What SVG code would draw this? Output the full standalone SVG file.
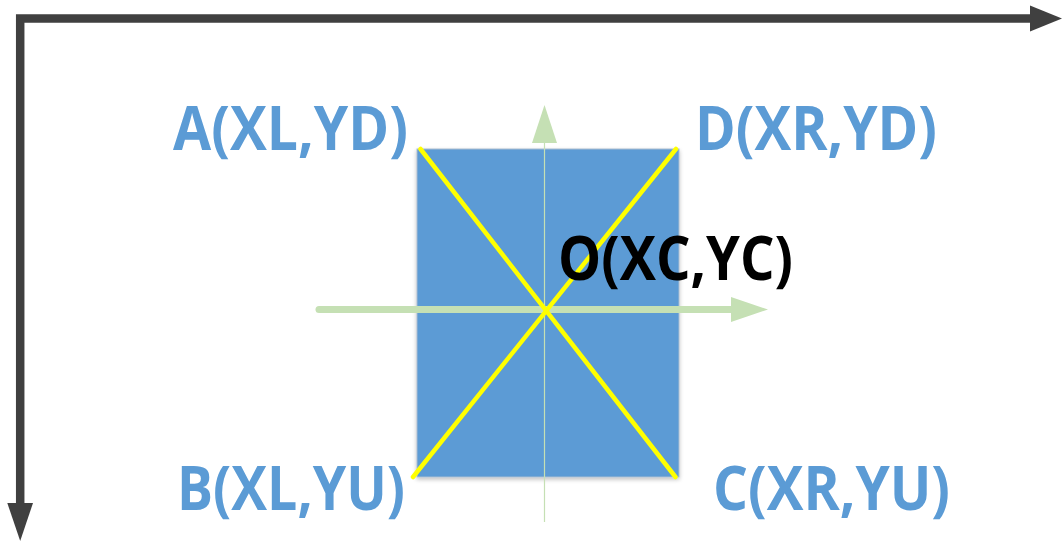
<svg xmlns="http://www.w3.org/2000/svg" width="1062" height="541" viewBox="0 0 1062 541">
<defs>
<style>
.lbl{font-family:"Open Sans","Liberation Sans",sans-serif;font-weight:bold;font-size:61px;fill:#5B9BD5}
.blk{fill:#000000}
.axis{fill:none;stroke:#404040;stroke-width:8.5;stroke-linejoin:miter}
.axhead{fill:#404040}
.green{stroke:#C5E0B4;fill:none}
.greenhead{fill:#C5E0B4}
.diag{stroke:#FFFF00;stroke-width:4.5;stroke-linecap:round}
</style>
<filter id="sh" x="-10%" y="-10%" width="120%" height="120%">
<feGaussianBlur in="SourceAlpha" stdDeviation="2"/>
<feOffset dx="0" dy="2"/>
<feComponentTransfer><feFuncA type="linear" slope="0.25"/></feComponentTransfer>
<feMerge><feMergeNode/><feMergeNode in="SourceGraphic"/></feMerge>
</filter>
</defs>
<rect width="1062" height="541" fill="#ffffff"/>
<g id="axes">
<path class="axis" d="M20.2,504 L20.2,18.5 L1031,18.5"/>
<polygon class="axhead" points="1030,5.5 1062,18.5 1030,31.5"/>
<polygon class="axhead" points="7.3,503 20.2,541 33,503"/>
</g>
<g id="rect-node">
<rect x="417" y="149" width="262" height="328" fill="#5B9BD5" stroke="#A9BCD0" stroke-width="1" filter="url(#sh)"/>
</g>
<g id="connectors">
<line class="green" x1="544.5" y1="143" x2="544.5" y2="522" stroke-width="1.2"/>
<polygon class="greenhead" points="532,143 544.5,105 557,143"/>
<line class="green" x1="319" y1="309.5" x2="733" y2="309.5" stroke-width="7" stroke-linecap="round"/>
<polygon class="greenhead" points="731,297 768,309.5 731,322"/>
<line class="diag" x1="420.5" y1="149" x2="675.5" y2="477"/>
<line class="diag" x1="676" y1="149" x2="413" y2="477"/>
</g>
<g id="label-A"><text class="lbl" x="173" y="150" textLength="235" lengthAdjust="spacingAndGlyphs">A(XL,YD)</text></g>
<g id="label-D"><text class="lbl" x="695" y="150" textLength="242" lengthAdjust="spacingAndGlyphs">D(XR,YD)</text></g>
<g id="label-B"><text class="lbl" x="177" y="510" textLength="228" lengthAdjust="spacingAndGlyphs">B(XL,YU)</text></g>
<g id="label-C"><text class="lbl" x="713" y="510" textLength="237" lengthAdjust="spacingAndGlyphs">C(XR,YU)</text></g>
<g id="label-O"><text class="lbl blk" x="558" y="280" textLength="235" lengthAdjust="spacingAndGlyphs">O(XC,YC)</text></g>
</svg>
